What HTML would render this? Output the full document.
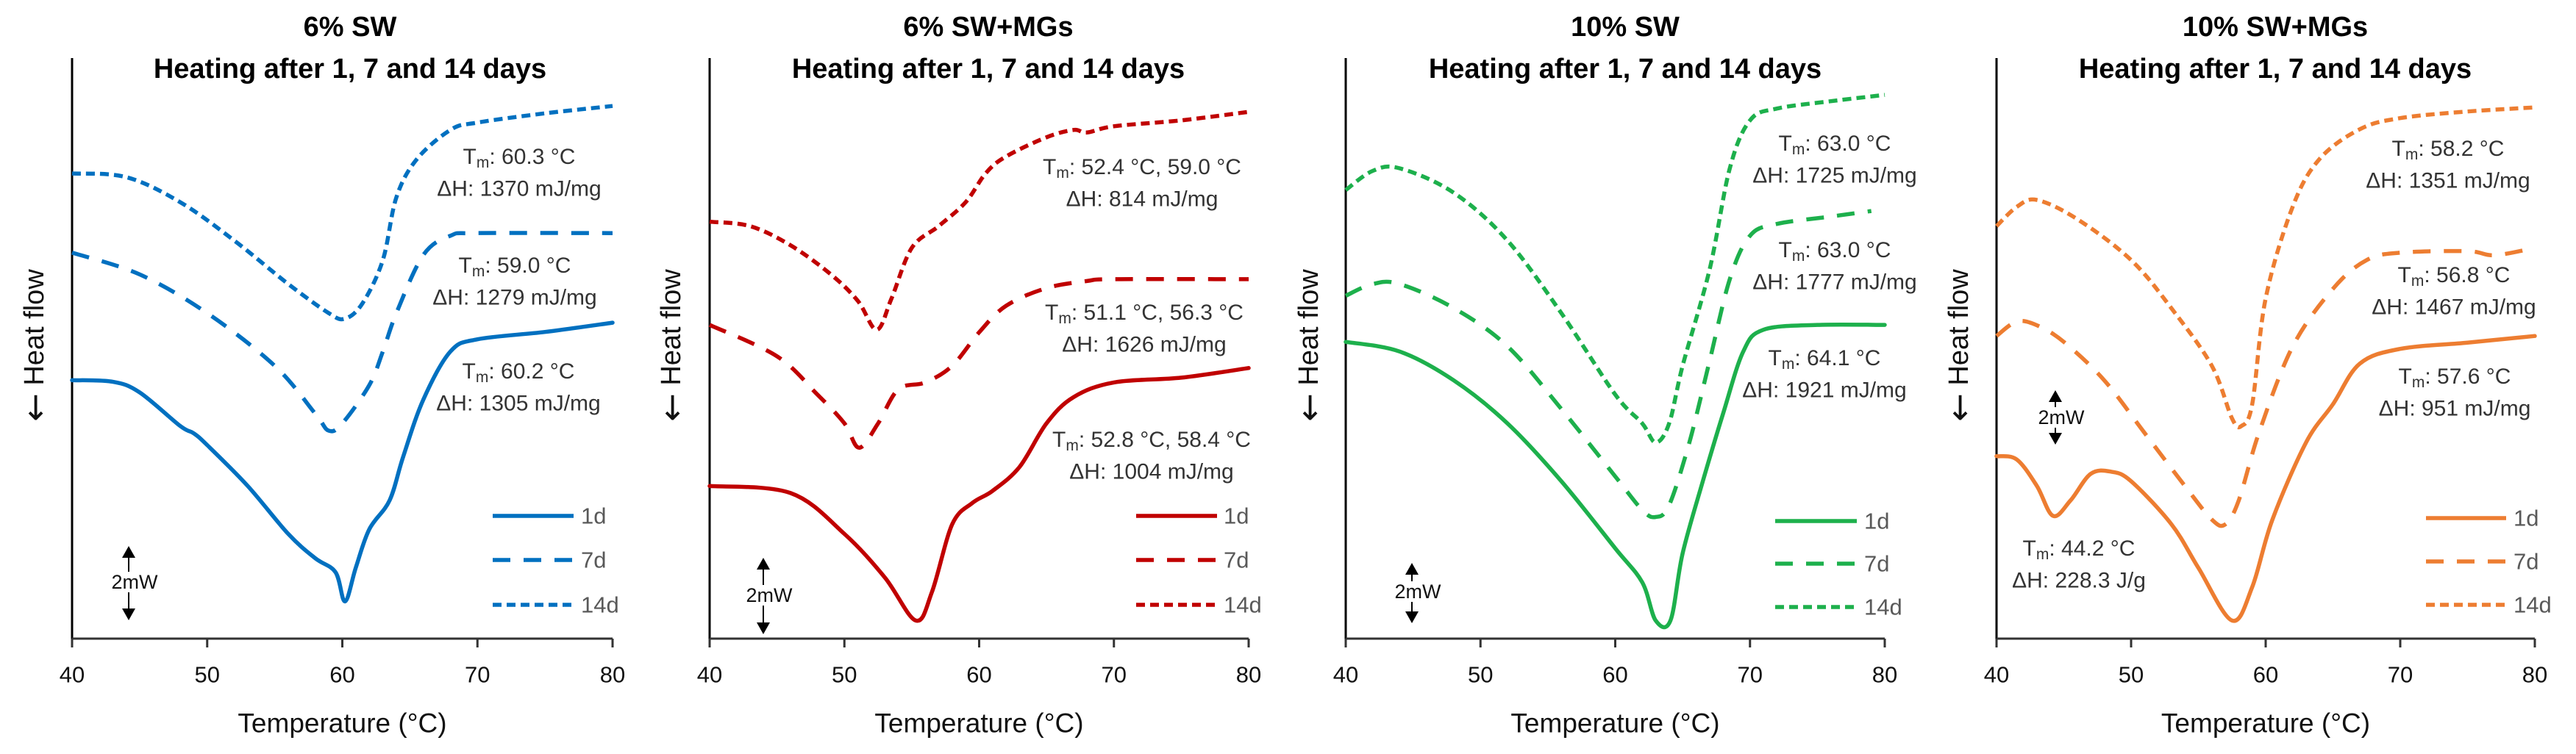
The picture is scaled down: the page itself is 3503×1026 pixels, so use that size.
<!DOCTYPE html>
<html><head><meta charset="utf-8">
<style>
html,body{margin:0;padding:0;background:#fff;}
svg{display:block;font-family:"Liberation Sans",sans-serif;}
</style></head>
<body>
<svg id="chart" width="3503" height="1026" viewBox="0 0 3503 1026" xmlns="http://www.w3.org/2000/svg"></svg>
<script>
// ---- data: temperature (°C) and heat-flow (mW, relative) per panel / series ----
const p1_d1_t=[40,43,45,48,49,50,53,56,58,59.5,60.2,61,62,63.5,64.5,66,68,70,75,80];
const p1_d1_v=[7.01,6.97,6.68,5.77,5.57,5.25,4.14,2.84,2.18,1.80,1.01,1.93,2.97,3.75,4.93,6.49,7.79,8.12,8.32,8.57];
const p1_d7_t=[40,45,50,55,58,59,60,62,63,64,66,68,70,80];
const p1_d7_v=[10.47,9.88,8.83,7.40,6.10,5.64,5.84,6.88,7.79,8.83,10.41,10.93,11.00,11.00];
const p1_d14_t=[40,44,48,52,56,59,60.2,61.5,63,64,65.5,68,70,75,80];
const p1_d14_v=[12.62,12.52,11.84,10.80,9.62,8.83,8.68,9.10,10.27,11.97,13.00,13.80,14.00,14.25,14.45];

const p2_d1_t=[40,46,50,53,55.3,56.5,58,59.5,61,63,65,67,70,75,80];
const p2_d1_v=[4.14,3.95,2.84,1.66,0.49,1.27,3.10,3.68,4.01,4.66,5.84,6.55,6.95,7.08,7.34];
const p2_d7_t=[40,45,48,50,51.1,52.5,54,56,58,60,62,65,68,70,80];
const p2_d7_v=[8.51,7.66,6.62,5.84,5.18,5.84,6.76,6.95,7.40,8.31,9.03,9.51,9.70,9.75,9.75];
const p2_d14_t=[40,43,46,49,51,52.4,53.5,55,57,59,60.5,62,65,67,68,70,75,80];
const p2_d14_v=[11.31,11.19,10.67,9.88,9.16,8.38,9.23,10.60,11.19,11.84,12.63,13.08,13.60,13.80,13.73,13.90,14.06,14.29];

const p3_d1_t=[40,44,48,52,56,60,62,63,64.1,65,66.5,68,69.5,71,75,80];
const p3_d1_v=[8.05,7.79,7.01,5.84,4.27,2.45,1.53,0.49,0.49,2.31,4.27,6.10,7.79,8.38,8.51,8.51];
const p3_d7_t=[40,42,44,48,52,56,60,62,63,64,65.5,67,68.5,70,72,76,79];
const p3_d7_v=[9.30,9.62,9.62,8.97,7.93,6.23,4.40,3.49,3.30,3.62,5.32,7.53,9.75,10.93,11.25,11.45,11.60];
const p3_d14_t=[40,42,44,48,52,56,60,62,63,64,65,67,68.5,70,72,76,80];
const p3_d14_v=[12.17,12.69,12.76,12.10,10.80,8.83,6.62,5.84,5.32,5.84,7.40,10.01,12.76,14.06,14.38,14.58,14.75];

const p4_d1_t=[40,41.5,43,44.2,45.5,47,48.5,50,53,55,57.5,59,60.5,63,65,67,70,75,80];
const p4_d1_v=[4.95,4.86,4.14,3.33,3.75,4.47,4.53,4.27,3.10,1.92,0.49,1.40,3.23,5.32,6.36,7.46,7.86,8.03,8.21];
const p4_d7_t=[40,41.5,43,45,48,51,54,56,57,58,59.5,62,65,67.5,70,75,77,80];
const p4_d7_v=[8.21,8.60,8.50,8.05,7.01,5.58,4.14,3.23,3.10,3.75,5.58,7.92,9.49,10.27,10.47,10.51,10.40,10.60];
const p4_d14_t=[40,41.5,43,46,50,53,56,57.5,58.2,59,60,62,64,67,70,75,80];
const p4_d14_v=[11.19,11.71,11.90,11.38,10.27,8.96,7.40,5.97,5.77,6.36,9.23,11.71,13.01,13.82,14.12,14.30,14.41];

const xTicks=[40,50,60,70,80];
const seriesNames=["1d","7d","14d"];
const panelTitles=["6% SW","6% SW+MGs","10% SW","10% SW+MGs"];
const p1_notes=[["60.3 °C","1370 mJ/mg"],["59.0 °C","1279 mJ/mg"],["60.2 °C","1305 mJ/mg"]];
const p2_notes=[["52.4 °C, 59.0 °C","814 mJ/mg"],["51.1 °C, 56.3 °C","1626 mJ/mg"],["52.8 °C, 58.4 °C","1004 mJ/mg"]];
const p3_notes=[["63.0 °C","1725 mJ/mg"],["63.0 °C","1777 mJ/mg"],["64.1 °C","1921 mJ/mg"]];
const p4_notes=[["58.2 °C","1351 mJ/mg"],["56.8 °C","1467 mJ/mg"],["57.6 °C","951 mJ/mg"],["44.2 °C","228.3 J/g"]];

// ---- layout ----
const NS="http://www.w3.org/2000/svg";
const svg=document.getElementById('chart');
const Y0=869, PXPERMW=50.16, YTOP=79;
const dashes=[null,"24 18","12 7"];
const panels=[
 {x0:98,x1:833,color:"#0070C0",series:[[p1_d1_t,p1_d1_v],[p1_d7_t,p1_d7_v],[p1_d14_t,p1_d14_v]],notes:p1_notes,
  notePos:[[706,213],[700,361],[705,505]],leg:{x:670,x2:780,lx:790,ys:[702,762,823]},arrow:{x:175,y1:743,y2:844,ty:792},hf:47,title:476},
 {x0:965,x1:1698,color:"#C00000",series:[[p2_d1_t,p2_d1_v],[p2_d7_t,p2_d7_v],[p2_d14_t,p2_d14_v]],notes:p2_notes,
  notePos:[[1553,227],[1556,425],[1566,598]],leg:{x:1545,x2:1655,lx:1664,ys:[702,762,823]},arrow:{x:1038,y1:759,y2:863,ty:810},hf:913,title:1344},
 {x0:1830,x1:2563,color:"#1DB04C",series:[[p3_d1_t,p3_d1_v],[p3_d7_t,p3_d7_v],[p3_d14_t,p3_d14_v]],notes:p3_notes,
  notePos:[[2495,195],[2495,340],[2481,487]],leg:{x:2414,x2:2525,lx:2535,ys:[709,767,826]},arrow:{x:1920,y1:766,y2:848,ty:805},hf:1780,title:2210},
 {x0:2715,x1:3447,color:"#ED7D31",series:[[p4_d1_t,p4_d1_v],[p4_d7_t,p4_d7_v],[p4_d14_t,p4_d14_v]],notes:p4_notes,
  notePos:[[3329,202],[3337,374],[3338,512],[2827,746]],leg:{x:3299,x2:3408,lx:3418,ys:[705,764,823]},arrow:{x:2795,y1:531,y2:605,ty:568},hf:2664,title:3094}
];

function mk(tag,attrs,parent){const e=document.createElementNS(NS,tag);for(const k in attrs)e.setAttribute(k,attrs[k]);(parent||svg).appendChild(e);return e;}
function smooth(pts){
  let d="M"+pts[0][0].toFixed(1)+","+pts[0][1].toFixed(1);
  for(let i=0;i<pts.length-1;i++){
    const p0=pts[i-1]||pts[i],p1=pts[i],p2=pts[i+1],p3=pts[i+2]||p2;
    const c1x=p1[0]+(p2[0]-p0[0])/6,c1y=p1[1]+(p2[1]-p0[1])/6;
    const c2x=p2[0]-(p3[0]-p1[0])/6,c2y=p2[1]-(p3[1]-p1[1])/6;
    d+=" C"+c1x.toFixed(1)+","+c1y.toFixed(1)+" "+c2x.toFixed(1)+","+c2y.toFixed(1)+" "+p2[0].toFixed(1)+","+p2[1].toFixed(1);
  }
  return d;
}

panels.forEach((P,pi)=>{
  const g=mk('g',{});
  
  
  const xs=t=>P.x0+(t-40)/40*(P.x1-P.x0);
  const ys=v=>Y0-v*PXPERMW;
  const t1=mk('text',{x:P.title,y:37,'text-anchor':'middle','dominant-baseline':'central','font-size':38,'font-weight':'bold',fill:'#000'},g);
  t1.textContent=panelTitles[pi];
  
  
  const t2=mk('text',{x:P.title,y:94,'text-anchor':'middle','dominant-baseline':'central','font-size':38,'font-weight':'bold',fill:'#000'},g);
  t2.textContent="Heating after 1, 7 and 14 days";
  
  
  const ya=mk('line',{x1:P.x0,y1:YTOP,x2:P.x0,y2:Y0,stroke:'#000','stroke-width':3},g);
  
  
  const xa=mk('line',{x1:P.x0,y1:Y0,x2:P.x1,y2:Y0,stroke:'#333','stroke-width':3},g);
  
  
  xTicks.forEach(tv=>{
    const tk=mk('line',{x1:xs(tv),y1:Y0,x2:xs(tv),y2:Y0+12,stroke:'#333','stroke-width':3},g);
    
    
    const tl=mk('text',{x:xs(tv),y:918,'text-anchor':'middle','dominant-baseline':'central','font-size':31,fill:'#111'},g);
    tl.textContent=String(tv);
    
    
  });
  const xt=mk('text',{x:(P.x0+P.x1)/2,y:984,'text-anchor':'middle','dominant-baseline':'central','font-size':37,fill:'#111'},g);
  xt.textContent="Temperature (°C)";
  
  
  const yt=mk('text',{x:P.hf,y:470,'text-anchor':'middle','dominant-baseline':'central','font-size':38,fill:'#111',transform:'rotate(-90 '+P.hf+' 470)'},g);
  
  
  const ar=mk('tspan',{'font-family':'DejaVu Sans, sans-serif','font-size':46},yt);
  ar.textContent="←";
  const ht=mk('tspan',{},yt);
  ht.textContent="  Heat flow";
  P.series.forEach((s,si)=>{
    const pts=s[0].map((t,i)=>[xs(t),ys(s[1][i])]);
    const a={d:smooth(pts),fill:'none',stroke:P.color,'stroke-width':5.5,'stroke-linecap':'round','stroke-linejoin':'round'};
    if(dashes[si]){a['stroke-dasharray']=dashes[si];a['stroke-linecap']='butt';}
    const path=mk('path',a,g);
    
    
    const la={x1:P.leg.x,y1:P.leg.ys[si],x2:P.leg.x2,y2:P.leg.ys[si],stroke:P.color,'stroke-width':5.5};
    if(dashes[si])la['stroke-dasharray']=dashes[si];
    const ll=mk('line',la,g);
    
    
    const lt=mk('text',{x:P.leg.lx,y:P.leg.ys[si],'dominant-baseline':'central','font-size':31,fill:'#595959'},g);
    lt.textContent=seriesNames[si];
    
    
  });
  P.notes.forEach((n,ni)=>{
    const [cx,cy]=P.notePos[ni];
    const a1=mk('text',{x:cx,y:cy,'text-anchor':'middle','dominant-baseline':'central','font-size':30,fill:'#333'},g);
    
    
    const s1=mk('tspan',{},a1);s1.textContent="T";
    const s2=mk('tspan',{'font-size':21,dy:8},a1);s2.textContent="m";
    const s3=mk('tspan',{dy:-8},a1);s3.textContent=": "+n[0];
    const a2=mk('text',{x:cx,y:cy+44,'text-anchor':'middle','dominant-baseline':'central','font-size':30,fill:'#333'},g);
    a2.textContent="ΔH: "+n[1];
    
    
  });
  const A=P.arrow;
  const ag=mk('g',{},g);
  
  
  mk('line',{x1:A.x,y1:A.y1+12,x2:A.x,y2:A.y2-12,stroke:'#000','stroke-width':2},ag);
  mk('polygon',{points:(A.x-9)+","+(A.y1+16)+" "+(A.x+9)+","+(A.y1+16)+" "+A.x+","+A.y1,fill:'#000'},ag);
  mk('polygon',{points:(A.x-9)+","+(A.y2-16)+" "+(A.x+9)+","+(A.y2-16)+" "+A.x+","+A.y2,fill:'#000'},ag);
  mk('rect',{x:A.x-4,y:A.ty-14,width:8,height:28,fill:'#fff'},ag);
  const at=mk('text',{x:A.x+8,y:A.ty,'text-anchor':'middle','dominant-baseline':'central','font-size':27,fill:'#111'},ag);
  at.textContent="2mW";
});
</script>
</body></html>
